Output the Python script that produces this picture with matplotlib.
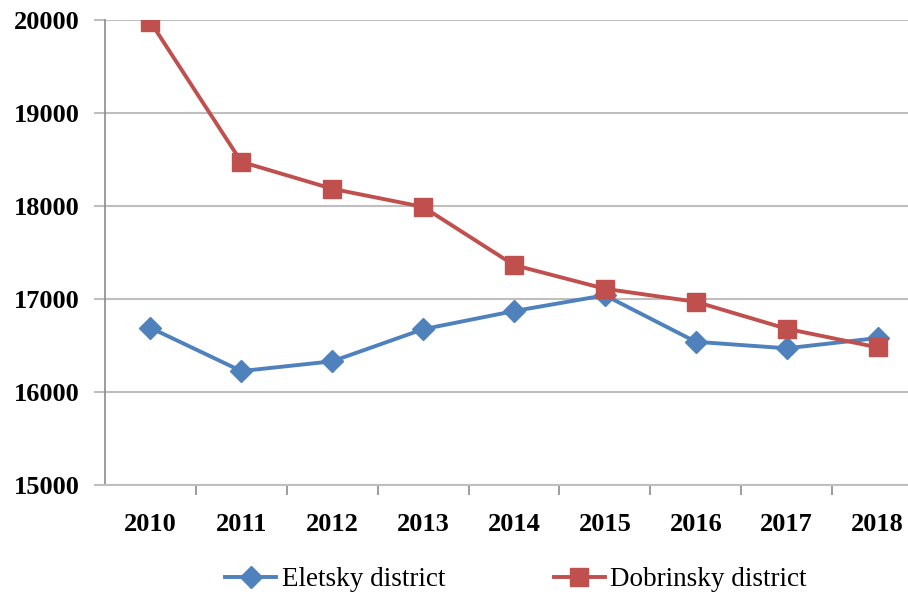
import matplotlib
matplotlib.use("Agg")
import matplotlib.pyplot as plt
from matplotlib.lines import Line2D

years = ["2010", "2011", "2012", "2013", "2014", "2015", "2016", "2017", "2018"]
eletsky = [16690, 16225, 16330, 16675, 16870, 17040, 16540, 16470, 16580]
dobrinsky = [19980, 18475, 18185, 17990, 17365, 17110, 16970, 16680, 16480]
y_ticks = [15000, 16000, 17000, 18000, 19000, 20000]

plt.rcParams["font.family"] = ["Liberation Serif", "DejaVu Serif"]

fig = plt.figure(figsize=(9.08, 5.98), dpi=100)
ax = fig.add_axes([105 / 908, 113 / 598, 818 / 908, 465 / 598])

grid_col = "#bfbfbf"
blue = "#4F81BD"
red = "#C0504D"
x = list(range(len(years)))

ax.plot(x, eletsky, color=blue, lw=2.8, marker="D", ms=11,
        label="Eletsky district", zorder=3)
ax.plot(x, dobrinsky, color=red, lw=2.8, marker="s", ms=13,
        label="Dobrinsky district", zorder=4)

ax.set_xlim(-0.5, len(years) - 0.5)
ax.set_ylim(15000, 20000)
ax.set_yticks(y_ticks)
ax.set_yticklabels([str(v) for v in y_ticks], fontsize=19, fontweight="bold")
ax.set_xticks(x)
ax.set_xticklabels(years, fontsize=19, fontweight="bold")
ax.set_xticks([i + 0.5 for i in range(len(years))], minor=True)

ax.yaxis.grid(True, color=grid_col, lw=1.5)
ax.set_axisbelow(True)
for side in ["top", "right"]:
    ax.spines[side].set_visible(False)
ax.spines["left"].set_color("#8c8c8c")
ax.spines["left"].set_linewidth(1.2)
ax.spines["bottom"].set_color(grid_col)
ax.spines["bottom"].set_linewidth(1.5)

ax.tick_params(axis="y", length=8, width=1.5, color=grid_col, pad=10)
ax.tick_params(axis="x", which="major", length=0, pad=20)
ax.tick_params(axis="x", which="minor", length=7, width=1.2, color="#8c8c8c")

handles = [
    Line2D([], [], color=blue, lw=2.8, marker="D", ms=11),
    Line2D([], [], color=red, lw=2.8, marker="s", ms=13),
]
fig.legend(handles, ["Eletsky district", "Dobrinsky district"],
           loc="center", bbox_to_anchor=(516 / 908, 1 - 580 / 598),
           ncol=2, frameon=False, fontsize=19.5, handlelength=1.9,
           handletextpad=0.2, columnspacing=4.0)

fig.savefig("out.png", dpi=100)
